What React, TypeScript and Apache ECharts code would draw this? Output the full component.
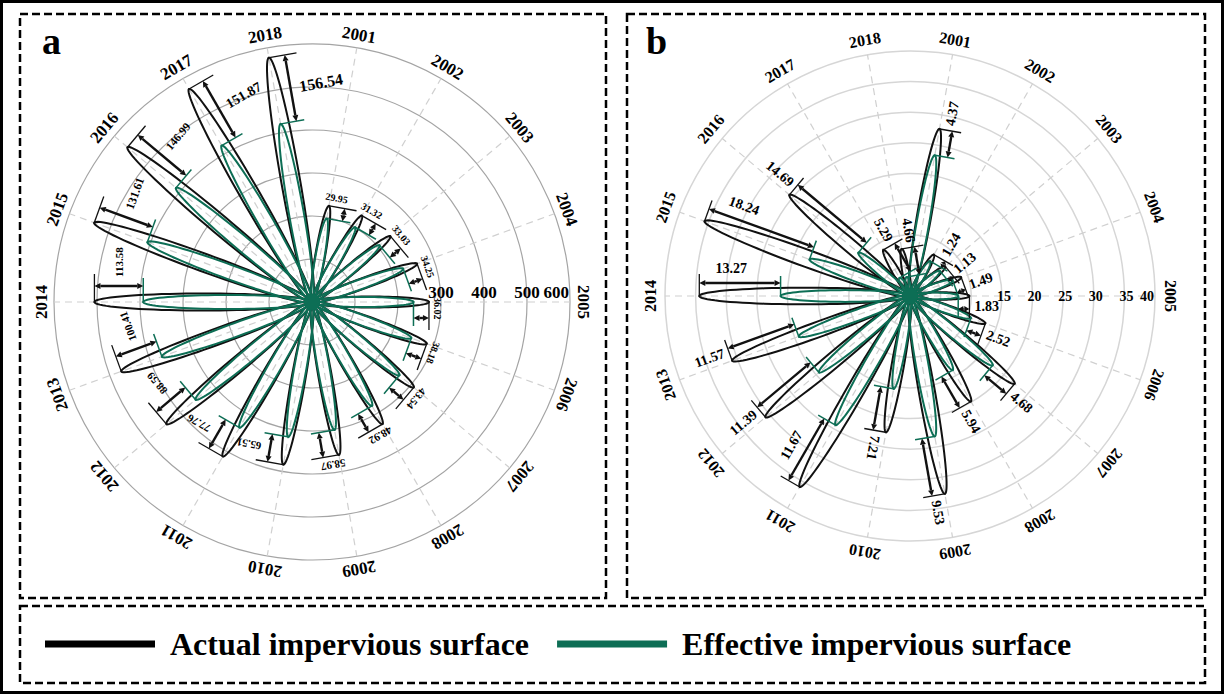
import { useEffect, useRef } from 'react';
import * as echarts from 'echarts';

const years = ['2001', '2002', '2003', '2004', '2005', '2006', '2007', '2008', '2009', '2010', '2011', '2012', '2013', '2014', '2015', '2016', '2017', '2018'];

// Panel a
const actualA = [227, 232, 238, 260, 272, 284, 309, 328, 361, 384, 415, 442, 472, 506, 539, 560, 572, 577];
const effectiveA = [197.05, 200.68, 204.97, 225.75, 235.98, 245.82, 265.46, 279.08, 302.03, 318.49, 337.24, 353.41, 371.59, 392.42, 407.39, 413.01, 420.13, 420.46];
const diffA = [29.95, 31.32, 33.03, 34.25, 36.02, 38.18, 43.54, 48.92, 58.97, 65.51, 77.76, 88.59, 100.41, 113.58, 131.61, 146.99, 151.87, 156.54];
const ringLabelsA = [300, 400, 500, 600];

// Panel b
const actualB = [27.7, 7.8, 7.5, 8.9, 9.7, 13.1, 22.3, 19.9, 32.8, 22.6, 36.0, 30.8, 30.9, 34.4, 35.7, 25.7, 8.7, 7.8];
const effectiveB = [23.33, 6.56, 6.37, 7.41, 7.87, 10.58, 17.62, 13.96, 23.27, 15.39, 24.33, 19.41, 19.33, 21.13, 17.46, 11.01, 3.41, 3.14];
const diffB = [4.37, 1.24, 1.13, 1.49, 1.83, 2.52, 4.68, 5.94, 9.53, 7.21, 11.67, 11.39, 11.57, 13.27, 18.24, 14.69, 5.29, 4.66];
const ringLabelsB = [15, 20, 25, 30, 35, 40];

// label font sizes (style only) for panel a
const labelSizeA = [10, 10, 10, 10, 10, 10, 10.5, 11, 11, 11, 11, 11, 11, 11, 12, 11.5, 14, 16];

const SERIF = '"Liberation Serif", "Times New Roman", serif';
const GREEN = '#0d6e55';
const BLACK = '#111';
const NAME_ACT = 'Actual impervious surface';
const NAME_EFF = 'Effective impervious surface';

function frame(api: any, r: number, i: number) {
  const c = api.coord([0, i]);
  const p = api.coord([r, i]);
  const dx = p[0] - c[0];
  const dy = p[1] - c[1];
  const L = Math.hypot(dx, dy) || 1;
  const ux = dx / L;
  const uy = dy / L;
  const tx = -uy;
  const ty = ux;
  const theta = Math.atan2(ux, -uy);
  const P = (rr: number, s: number) => [c[0] + ux * rr + tx * s, c[1] + uy * rr + ty * s];
  return { c, L, ux, uy, tx, ty, theta, P };
}

const petal = (color: string, lw: number, hub: number) => (_params: any, api: any) => {
  const i = api.value(1);
  const f = frame(api, api.value(0), i);
  const hw = 0.03 * f.L + 2;
  const pts: number[][] = [];
  const N = 80;
  for (let k = 0; k <= N; k++) {
    const t = (2 * Math.PI * k) / N;
    const a = (f.L / 2) * (1 - Math.cos(t));
    const b = hw * Math.sin(t);
    pts.push(f.P(a, b));
  }
  const children: any[] = [
    { type: 'polygon', shape: { points: pts }, style: { fill: 'none', stroke: color, lineWidth: lw } },
  ];
  if (hub > 0) {
    children.push({ type: 'circle', shape: { cx: f.c[0], cy: f.c[1], r: hub }, style: { fill: color } });
  }
  return { type: 'group', children };
};

const spoke = (color: string) => (_params: any, api: any) => {
  const i = api.value(1);
  const f = frame(api, api.value(0), i);
  const p = f.P(f.L, 0);
  return {
    type: 'line',
    shape: { x1: f.c[0], y1: f.c[1], x2: p[0], y2: p[1] },
    style: { stroke: color, lineWidth: 1.2, lineDash: [7, 5] },
  };
};

type PanelStyle = {
  max: number;
  mode: 'tangential' | 'radial';
  sideFrac: number;
  off: number;
  tickA: number;
  tickE: number;
  fontSize: (i: number) => number;
};

const annotate = (st: PanelStyle) => (_params: any, api: any) => {
  const act = api.value(0);
  const i = api.value(1);
  const eff = api.value(2);
  const d = api.value(3);
  const f = frame(api, act, i);
  const LA = f.L;
  const LE = frame(api, eff, i).L;
  const ah = 6;
  const aw = 3;
  const children: any[] = [];
  const line = (p1: number[], p2: number[], stroke: string, lw: number) => ({
    type: 'line',
    shape: { x1: p1[0], y1: p1[1], x2: p2[0], y2: p2[1] },
    style: { stroke, lineWidth: lw },
  });
  children.push(line(f.P(LA, -1), f.P(LA, st.tickA), BLACK, 1.3));
  children.push(line(f.P(LE, -1), f.P(LE, st.tickE), GREEN, 1.5));
  const o = st.off;
  const span = LA - LE;
  const h = Math.min(ah, span / 2.2);
  children.push(line(f.P(LE + h, o), f.P(LA - h, o), BLACK, 2.4));
  children.push({
    type: 'polygon',
    shape: { points: [f.P(LA, o), f.P(LA - h, o - aw), f.P(LA - h, o + aw)] },
    style: { fill: BLACK },
  });
  children.push({
    type: 'polygon',
    shape: { points: [f.P(LE, o), f.P(LE + h, o - aw), f.P(LE + h, o + aw)] },
    style: { fill: BLACK },
  });
  const txt = d.toFixed(2);
  const fs = st.fontSize(i);
  const side = act / st.max > st.sideFrac;
  const baseStyle = { text: txt, fontSize: fs, fontWeight: 'bold', fontFamily: SERIF, fill: '#000', verticalAlign: 'middle' };
  if (st.mode === 'tangential') {
    const pos = side ? f.P((LA + LE) / 2, o + 9) : f.P(LA + 9, -5);
    children.push({ type: 'text', x: pos[0], y: pos[1], rotation: -f.theta, style: { ...baseStyle, align: 'left' } });
  } else {
    let deg = (f.theta * 180) / Math.PI;
    if (deg < 0) deg += 360;
    const flip = deg > 200;
    const rot = Math.atan2(-f.uy, f.ux) + (flip ? Math.PI : 0);
    if (side) {
      const pos = f.P(LA - 32, o + 15);
      children.push({ type: 'text', x: pos[0], y: pos[1], rotation: rot, style: { ...baseStyle, align: 'center' } });
    } else {
      const pos = f.P(LA + 5, 10);
      children.push({ type: 'text', x: pos[0], y: pos[1], rotation: rot, style: { ...baseStyle, align: flip ? 'right' : 'left' } });
    }
  }
  return { type: 'group', children };
};

const yearLabel = (gap: number, fs: number) => (_params: any, api: any) => {
  const i = api.value(1);
  const f = frame(api, api.value(0), i);
  const pos = f.P(f.L + gap, 0);
  return {
    type: 'text',
    x: pos[0],
    y: pos[1],
    rotation: -f.theta,
    style: { text: years[i], align: 'center', verticalAlign: 'middle', fontSize: fs, fontWeight: 'bold', fontFamily: SERIF, fill: '#000' },
  };
};

const ringLabel = (max: number, dx: number, dy: number, fs: number) => (_params: any, api: any) => {
  const v = api.value(0);
  const p = api.coord([v, api.value(1)]);
  const last = v >= max;
  return {
    type: 'text',
    x: last ? p[0] - 1 : p[0] + dx,
    y: p[1] + dy,
    style: {
      text: String(v),
      align: last ? 'right' : 'center',
      verticalAlign: 'middle',
      fontSize: fs,
      fontWeight: 'bold',
      fontFamily: SERIF,
      fill: '#000',
    },
  };
};

function panelSeries(
  polarIndex: number,
  actual: number[],
  effective: number[],
  diff: number[],
  rings: number[],
  st: PanelStyle,
  yearGap: number,
  yearFs: number,
  ringDx: number,
  ringDy: number,
  ringFs: number,
) {
  const idx2005 = years.indexOf('2005');
  return [
    {
      type: 'custom',
      coordinateSystem: 'polar',
      polarIndex,
      data: years.map((_y, i) => [st.max, i]),
      renderItem: spoke('#d0d0d0'),
      z: 1,
      silent: true,
    },
    {
      type: 'custom',
      name: NAME_ACT,
      coordinateSystem: 'polar',
      polarIndex,
      itemStyle: { color: '#000' },
      data: actual.map((v, i) => [v, i]),
      renderItem: petal(BLACK, 2, 0),
      z: 2,
      silent: true,
    },
    {
      type: 'custom',
      name: NAME_EFF,
      coordinateSystem: 'polar',
      polarIndex,
      itemStyle: { color: GREEN },
      data: effective.map((v, i) => [v, i]),
      renderItem: petal(GREEN, 2, 8),
      z: 3,
      silent: true,
    },
    {
      type: 'custom',
      coordinateSystem: 'polar',
      polarIndex,
      data: actual.map((v, i) => [v, i, effective[i], diff[i]]),
      renderItem: annotate(st),
      z: 4,
      silent: true,
    },
    {
      type: 'custom',
      coordinateSystem: 'polar',
      polarIndex,
      data: years.map((_y, i) => [st.max, i]),
      renderItem: yearLabel(yearGap, yearFs),
      z: 5,
      silent: true,
    },
    {
      type: 'custom',
      coordinateSystem: 'polar',
      polarIndex,
      data: rings.map((v) => [v, idx2005]),
      renderItem: ringLabel(st.max, ringDx, ringDy, ringFs),
      z: 5,
      silent: true,
    },
  ];
}

export default function App() {
  const ref = useRef<HTMLDivElement>(null);
  useEffect(() => {
    if (!ref.current) return;
    const chart = echarts.init(ref.current, undefined, { renderer: 'svg' });
    const angleCommon = {
      type: 'category',
      data: years,
      boundaryGap: true,
      startAngle: 90,
      clockwise: true,
      axisLine: { show: false },
      axisTick: { show: false },
      axisLabel: { show: false },
      splitLine: { show: false },
    };
    const stA: PanelStyle = { max: 600, mode: 'tangential', sideFrac: 0.62, off: 16, tickA: 28, tickE: 24, fontSize: (i) => labelSizeA[i] };
    const stB: PanelStyle = { max: 40, mode: 'radial', sideFrac: 0.84, off: 13, tickA: 22, tickE: 20, fontSize: () => 14 };
    const option: any = {
      animation: false,
      backgroundColor: '#fff',
      polar: [
        { center: [312, 302], radius: 258 },
        { center: [910, 296], radius: 245 },
      ],
      angleAxis: [
        { ...angleCommon, polarIndex: 0 },
        { ...angleCommon, polarIndex: 1 },
      ],
      radiusAxis: [
        {
          polarIndex: 0,
          type: 'value',
          min: 0,
          max: 600,
          interval: 100,
          axisLine: { show: false },
          axisTick: { show: false },
          axisLabel: { show: false },
          splitLine: { show: true, lineStyle: { color: '#a4a4a4', width: 1.2 } },
        },
        {
          polarIndex: 1,
          type: 'value',
          min: 0,
          max: 40,
          interval: 5,
          axisLine: { show: false },
          axisTick: { show: false },
          axisLabel: { show: false },
          splitLine: { show: true, lineStyle: { color: '#d6d6d6', width: 1.5 } },
        },
      ],
      legend: {
        left: 40,
        top: 623,
        itemWidth: 110,
        itemHeight: 7,
        itemGap: 28,
        icon: 'rect',
        selectedMode: false,
        data: [
          { name: NAME_ACT, icon: 'rect', itemStyle: { color: '#000' } },
          { name: NAME_EFF, icon: 'rect', itemStyle: { color: GREEN } },
        ],
        textStyle: { fontSize: 32, fontWeight: 'bold', fontFamily: SERIF, color: '#000', padding: [0, 0, 0, 10] },
      },
      graphic: [
        { type: 'rect', shape: { x: 1.5, y: 1.5, width: 1221, height: 691 }, style: { fill: 'none', stroke: '#000', lineWidth: 3 }, silent: true },
        { type: 'rect', shape: { x: 20, y: 14, width: 586, height: 584 }, style: { fill: 'none', stroke: '#000', lineWidth: 2.5, lineDash: [8, 4] }, silent: true },
        { type: 'rect', shape: { x: 627, y: 14, width: 578, height: 584 }, style: { fill: 'none', stroke: '#000', lineWidth: 2.5, lineDash: [8, 4] }, silent: true },
        { type: 'rect', shape: { x: 20, y: 606, width: 1185, height: 77 }, style: { fill: 'none', stroke: '#000', lineWidth: 2.5, lineDash: [8, 4] }, silent: true },
        { type: 'text', x: 42, y: 22, style: { text: 'a', fontSize: 38, fontWeight: 'bold', fontFamily: SERIF, fill: '#000' }, silent: true },
        { type: 'text', x: 646, y: 22, style: { text: 'b', fontSize: 38, fontWeight: 'bold', fontFamily: SERIF, fill: '#000' }, silent: true },
      ],
      series: [
        ...panelSeries(0, actualA, effectiveA, diffA, ringLabelsA, stA, 13, 17, 0, -10, 17),
        ...panelSeries(1, actualB, effectiveB, diffB, ringLabelsB, stB, 15, 16, 2, 0, 14),
      ],
    };
    chart.setOption(option);
    return () => chart.dispose();
  }, []);
  return <div ref={ref} style={{ position: 'absolute', left: 0, top: 0, width: 1224, height: 694, background: '#fff' }} />;
}
